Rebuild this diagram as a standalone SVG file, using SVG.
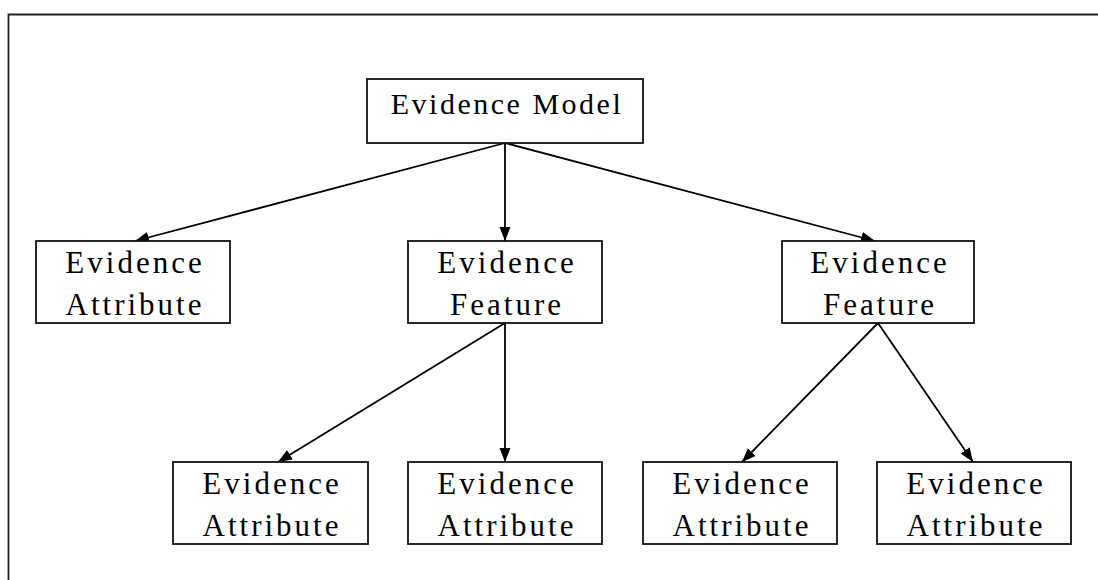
<svg xmlns="http://www.w3.org/2000/svg" width="1098" height="580" viewBox="0 0 1098 580">
<style>
.box{fill:#fff;stroke:#111;stroke-width:1.8}
.t{font-family:'Liberation Serif','DejaVu Serif','Times New Roman',serif;font-size:31px;letter-spacing:3px;text-anchor:middle;fill:#000}
.tm{font-size:30px;letter-spacing:2.5px}
.edge{stroke:#000;stroke-width:1.8;fill:none;marker-end:url(#ah)}
</style>
<defs>
<marker id="ah" markerUnits="userSpaceOnUse" markerWidth="15" markerHeight="12" refX="14" refY="5.5" orient="auto">
<path d="M0,0 L14,5.5 L0,11 Z" fill="#000"/>
</marker>
</defs>
<rect width="1098" height="580" fill="#fff"/>
<path d="M8.5,580 V14.5 H1098" fill="none" stroke="#222" stroke-width="1.8"/>
<g id="connectors">
<line class="edge" x1="505" y1="143" x2="135" y2="241"/>
<line class="edge" x1="505" y1="143" x2="505" y2="241"/>
<line class="edge" x1="505" y1="143" x2="875" y2="241"/>
<line class="edge" x1="505" y1="323" x2="278" y2="462"/>
<line class="edge" x1="505" y1="323" x2="505" y2="462"/>
<line class="edge" x1="878" y1="323" x2="742" y2="462"/>
<line class="edge" x1="878" y1="323" x2="973" y2="462"/>
</g>
<g id="model">
<rect class="box" x="367" y="79" width="276" height="64"/>
<text class="t tm" x="507" y="114">Evidence Model</text>
</g>
<g id="attr1">
<rect class="box" x="36" y="241" width="194" height="82"/>
<text class="t" x="135" y="273">Evidence</text>
<text class="t" x="135" y="315">Attribute</text>
</g>
<g id="feature1">
<rect class="box" x="408" y="241" width="194" height="82"/>
<text class="t" x="507" y="273">Evidence</text>
<text class="t" x="507" y="315">Feature</text>
</g>
<g id="feature2">
<rect class="box" x="782" y="241" width="192" height="82"/>
<text class="t" x="880" y="273">Evidence</text>
<text class="t" x="880" y="315">Feature</text>
</g>
<g id="attr2">
<rect class="box" x="173" y="462" width="195" height="82"/>
<text class="t" x="272" y="494">Evidence</text>
<text class="t" x="272" y="536">Attribute</text>
</g>
<g id="attr3">
<rect class="box" x="408" y="462" width="194" height="82"/>
<text class="t" x="507" y="494">Evidence</text>
<text class="t" x="507" y="536">Attribute</text>
</g>
<g id="attr4">
<rect class="box" x="643" y="462" width="194" height="82"/>
<text class="t" x="742" y="494">Evidence</text>
<text class="t" x="742" y="536">Attribute</text>
</g>
<g id="attr5">
<rect class="box" x="877" y="462" width="194" height="82"/>
<text class="t" x="976" y="494">Evidence</text>
<text class="t" x="976" y="536">Attribute</text>
</g>
</svg>
